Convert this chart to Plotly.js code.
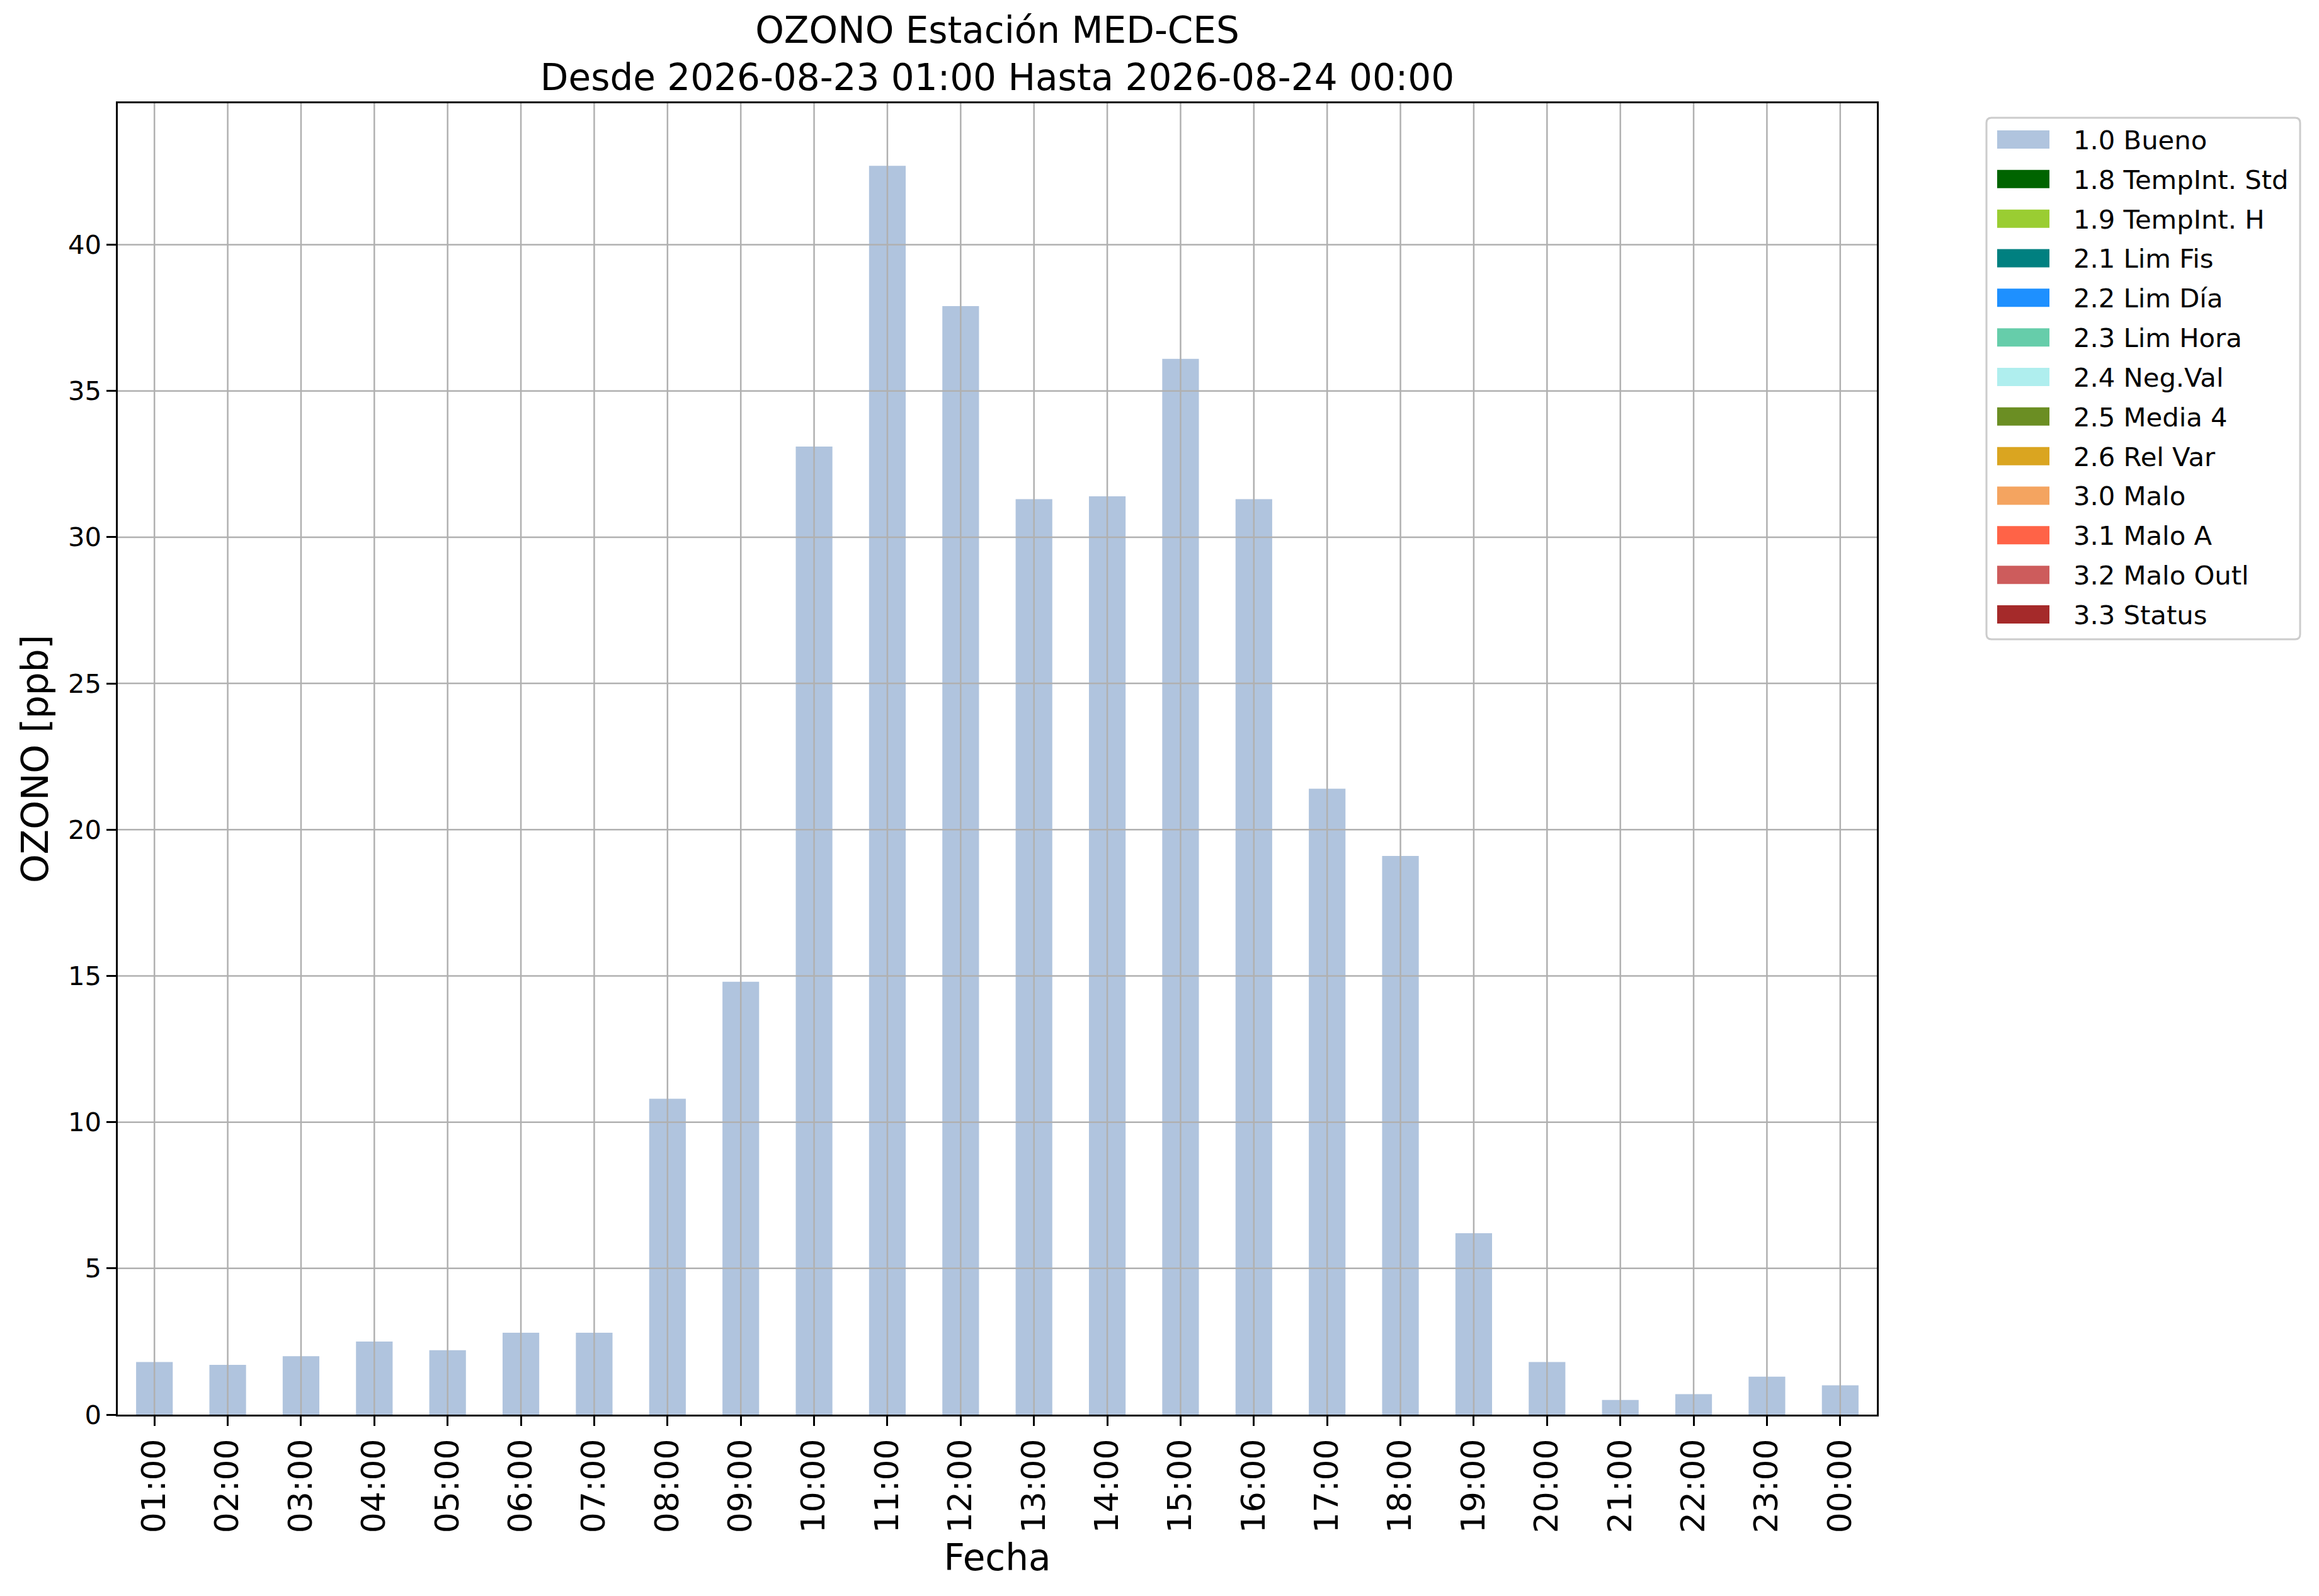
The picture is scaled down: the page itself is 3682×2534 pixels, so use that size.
<!DOCTYPE html>
<html>
<head>
<meta charset="utf-8">
<script src="https://cdn.plot.ly/plotly-3.0.1.min.js"></script>
<style>
  html, body { margin: 0; padding: 0; background: #fff; }
  #grafico { width: 3682px; height: 2534px; }
</style>
</head>
<body>
<div id="grafico"></div>
<script>
const horas = ['01:00', '02:00', '03:00', '04:00', '05:00', '06:00', '07:00', '08:00',
  '09:00', '10:00', '11:00', '12:00', '13:00', '14:00', '15:00', '16:00',
  '17:00', '18:00', '19:00', '20:00', '21:00', '22:00', '23:00', '00:00']

// valores con bandera 1.0 Bueno (el resto de banderas no tiene datos)
const bueno = [1.8, 1.7, 2.0, 2.5, 2.2, 2.8, 2.8, 10.8,
  14.8, 33.1, 42.7, 37.9, 31.3, 31.4, 36.1, 31.3,
  21.4, 19.1, 6.2, 1.8, 0.5, 0.7, 1.3, 1.0]

const banderas = ['1.0 Bueno', '1.8 TempInt. Std', '1.9 TempInt. H', '2.1 Lim Fis',
  '2.2 Lim Día', '2.3 Lim Hora', '2.4 Neg.Val', '2.5 Media 4', '2.6 Rel Var',
  '3.0 Malo', '3.1 Malo A', '3.2 Malo Outl', '3.3 Status']

const colores = ['lightsteelblue', 'darkgreen', 'yellowgreen', 'teal',
  'dodgerblue', 'mediumaquamarine', 'paleturquoise', 'olivedrab', 'goldenrod',
  'sandybrown', 'tomato', 'indianred', 'brown']

const yTicks = [0, 5, 10, 15, 20, 25, 30, 35, 40]

// caja del area de dibujo en pixeles
const W = 3682, H = 2534
const L = 187, R = 2980, T = 164, B = 2246
const px2x = p => (p - L) / (R - L)
const px2y = p => (B - p) / (B - T)

const fuente = 'DejaVu Sans, Verdana, sans-serif'

var trazaBueno = {
  x: horas,
  y: bueno,
  name: banderas[0],
  type: 'bar',
  width: 0.5,
  marker: {color: colores[0]},
  showlegend: false,
  hoverinfo: 'x+y'
}

var shapes = []

// rejilla encima de las barras, como en el original
horas.forEach(function (h, i) {
  shapes.push({type: 'line', xref: 'x', yref: 'paper', x0: i, x1: i, y0: 0, y1: 1,
    layer: 'above', line: {color: '#b0b0b0', width: 2.5}})
})
yTicks.slice(1).forEach(function (v) {
  shapes.push({type: 'line', xref: 'paper', yref: 'y', x0: 0, x1: 1, y0: v, y1: v,
    layer: 'above', line: {color: '#b0b0b0', width: 2.5}})
})

// leyenda a la derecha del grafico
const legL = 3154, legR = 3652, legT = 187, legB = 1015, rad = 8
const X = px2x, Y = px2y
shapes.push({
  type: 'path', xref: 'paper', yref: 'paper', layer: 'above',
  path: 'M' + X(legL + rad) + ',' + Y(legT) +
    ' L' + X(legR - rad) + ',' + Y(legT) +
    ' Q' + X(legR) + ',' + Y(legT) + ' ' + X(legR) + ',' + Y(legT + rad) +
    ' L' + X(legR) + ',' + Y(legB - rad) +
    ' Q' + X(legR) + ',' + Y(legB) + ' ' + X(legR - rad) + ',' + Y(legB) +
    ' L' + X(legL + rad) + ',' + Y(legB) +
    ' Q' + X(legL) + ',' + Y(legB) + ' ' + X(legL) + ',' + Y(legB - rad) +
    ' L' + X(legL) + ',' + Y(legT + rad) +
    ' Q' + X(legL) + ',' + Y(legT) + ' ' + X(legL + rad) + ',' + Y(legT) + ' Z',
  fillcolor: 'rgba(255,255,255,0.8)',
  line: {color: '#cccccc', width: 3}
})

var annotations = []
const fila0 = 221.5, paso = 62.83
banderas.forEach(function (b, i) {
  var yc = fila0 + i * paso
  shapes.push({type: 'rect', xref: 'paper', yref: 'paper', layer: 'above',
    x0: X(3171), x1: X(3254), y0: Y(yc - 14.5), y1: Y(yc + 14.5),
    fillcolor: colores[i], line: {width: 0}})
  annotations.push({xref: 'paper', yref: 'paper', x: X(3290), y: Y(yc + 1),
    xanchor: 'left', yanchor: 'middle', showarrow: false, text: b,
    font: {family: fuente, size: 41.7, color: '#000'}})
})

var layout = {
  width: W,
  height: H,
  margin: {l: L, r: W - R, t: T, b: H - B, pad: 0},
  paper_bgcolor: '#fff',
  plot_bgcolor: '#fff',
  font: {family: fuente, color: '#000'},
  title: {
    text: 'OZONO Estación MED-CES<br>Desde 2026-08-23 01:00 Hasta 2026-08-24 00:00',
    font: {family: fuente, size: 58, color: '#000'},
    x: 0.5, xref: 'paper', xanchor: 'center',
    y: 1 - 68 / H, yref: 'container', yanchor: 'middle'
  },
  bargap: 0.5,
  xaxis: {
    type: 'category',
    range: [-0.5, horas.length - 0.5],
    tickangle: -90,
    tickfont: {family: fuente, size: 52, color: '#000'},
    ticks: 'outside', ticklen: 14.6, tickwidth: 3, tickcolor: '#000',
    showgrid: false, zeroline: false,
    showline: true, linecolor: '#000', linewidth: 3, mirror: true,
    title: {text: 'Fecha', font: {family: fuente, size: 58, color: '#000'}, standoff: 20}
  },
  yaxis: {
    range: [0, 42.7 * 1.05],
    tickvals: yTicks,
    tickfont: {family: fuente, size: 41.7, color: '#000'},
    ticks: 'outside', ticklen: 14.6, tickwidth: 3, tickcolor: '#000',
    showgrid: false, zeroline: false,
    showline: true, linecolor: '#000', linewidth: 3, mirror: true,
    title: {text: 'OZONO [ppb]', font: {family: fuente, size: 58, color: '#000'}, standoff: 13}
  },
  shapes: shapes,
  annotations: annotations,
  showlegend: false
}

Plotly.newPlot('grafico', [trazaBueno], layout, {staticPlot: true})
</script>
</body>
</html>
